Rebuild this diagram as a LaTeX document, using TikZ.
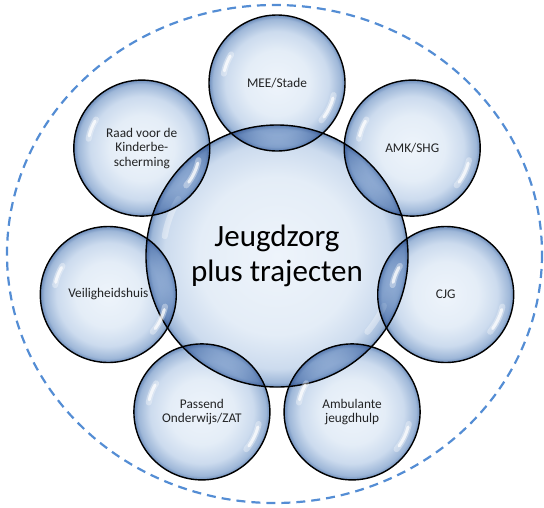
\documentclass[tikz,border=0pt]{standalone}
\usepackage{fontspec}
\setmainfont{Carlito}
\definecolor{dashblue}{RGB}{84,141,212}
\definecolor{bcA}{RGB}{238,244,251}
\definecolor{bcB}{RGB}{228,237,247}
\definecolor{bcC}{RGB}{204,219,238}
\definecolor{bcD}{RGB}{158,183,216}
\definecolor{bcE}{RGB}{110,142,188}
\pgfdeclareradialshading{bubble}{\pgfpoint{0bp}{0bp}}{color(0bp)=(bcA); color(12bp)=(bcB); color(19bp)=(bcC); color(23.5bp)=(bcD); color(25bp)=(bcE); color(50bp)=(bcE)}
\pgfdeclareradialshading{bigbubble}{\pgfpoint{0bp}{0bp}}{color(0bp)=(bcA); color(15bp)=(bcB); color(21.5bp)=(bcC); color(24.2bp)=(bcD); color(25bp)=(bcE); color(50bp)=(bcE)}
\tikzset{
  bub/.style={circle, inner sep=0pt, shading=bubble, draw=black, line width=1.4pt,
    align=center, font=\fontsize{13.3}{14.5}\selectfont, text=black!85},
  sat/.style={bub, minimum size=136pt},
  hl/.style={white, line cap=round, opacity=0.75, line width=3pt},
  hlsoft/.style={white, line cap=round, opacity=0.35, line width=6pt},
  outer/.style={dashblue, line width=2.2pt, dash pattern=on 9pt off 6pt}
}
\begin{document}
\begin{tikzpicture}[x=1pt,y=-1pt]
\useasboundingbox (0,0) rectangle (544,507);
\draw[outer] (274.5,254) ellipse [x radius=267.5, y radius=249];
\begin{scope}[blend mode=multiply]
\node[bub, shading=bigbubble, minimum size=262pt, font=\fontsize{31}{35}\selectfont, text=black] (c) at (277,256) {Jeugdzorg\\plus trajecten};
\end{scope}
\draw[hlsoft] ([shift={(150:114pt)}]c.center) arc[start angle=150, end angle=170, radius=114pt];
\draw[hlsoft] ([shift={(-25:118pt)}]c.center) arc[start angle=-25, end angle=-40, radius=118pt];
\begin{scope}[blend mode=multiply]
\node[sat] (mee) at (277,83) {MEE/Stade};
\node[sat] (amk) at (412.2,148.1) {AMK/SHG};
\node[sat] (cjg) at (445.7,294.5) {CJG};
\node[sat] (amb) at (352.1,411.9) {Ambulante\\jeugdhulp};
\node[sat] (pas) at (201.9,411.9) {Passend\\Onderwijs/ZAT};
\node[sat] (vei) at (108.3,294.5) {Veiligheidshuis};
\node[sat] (raad) at (141.8,148.1) {Raad voor de\\Kinderbe-\\scherming};
\end{scope}
\foreach \n in {mee,amk,cjg,amb,pas,vei,raad}{
  \draw[hlsoft] ([shift={(148:54pt)}]\n.center) arc[start angle=148, end angle=170, radius=54pt];
  \draw[hl] ([shift={(150:54pt)}]\n.center) arc[start angle=150, end angle=167, radius=54pt];
  \draw[hlsoft] ([shift={(-12:58pt)}]\n.center) arc[start angle=-12, end angle=-40, radius=58pt];
  \draw[hl] ([shift={(-15:58pt)}]\n.center) arc[start angle=-15, end angle=-36, radius=58pt];
}
\end{tikzpicture}
\end{document}
